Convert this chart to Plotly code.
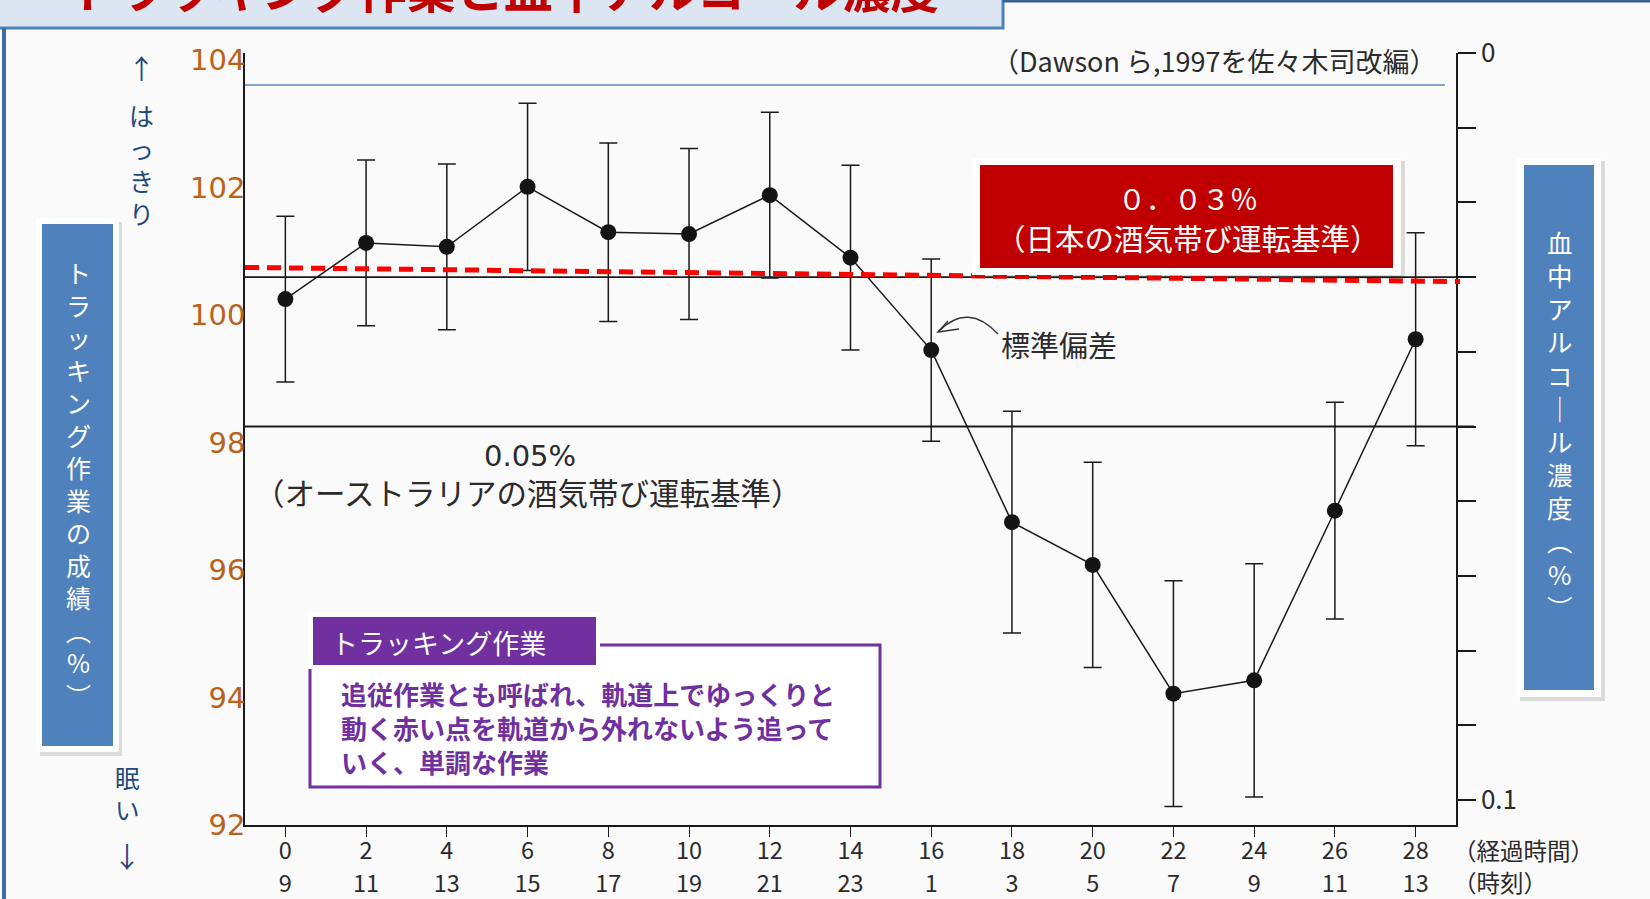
import plotly.graph_objects as go

# ---------------- data ----------------
hours = [0, 2, 4, 6, 8, 10, 12, 14, 16, 18, 20, 22, 24, 26, 28]
clock = [9, 11, 13, 15, 17, 19, 21, 23, 1, 3, 5, 7, 9, 11, 13]
tracking_mean = [100.25, 101.13, 101.07, 102.01, 101.30, 101.27, 101.88, 100.90,
                 99.45, 96.75, 96.08, 94.06, 94.27, 96.93, 99.62]
tracking_sd = [1.30, 1.30, 1.30, 1.31, 1.40, 1.34, 1.30, 1.45,
               1.43, 1.74, 1.61, 1.77, 1.83, 1.70, 1.67]
left_ticks = [92, 94, 96, 98, 100, 102, 104]
bac_ticks = [0, 0.01, 0.02, 0.03, 0.04, 0.05, 0.06, 0.07, 0.08, 0.09, 0.1]
bac_ticktext = ["0", "", "", "", "", "", "", "", "", "", "0.1"]
bac_japan = 0.03
bac_australia = 0.05
red_line_bac = [0.0287, 0.0306]

# ---------------- geometry helpers ----------------
W, H = 1650, 899
L, R, T, B = 245, 1456, 53, 825
PW, PH = R - L, B - T


def PX(px):
    return (px - L) / PW


def PY(py):
    return (B - py) / PH


FONT = "Noto Sans CJK JP"
DARK = "#2b2b2b"

fig = go.Figure()

fig.add_trace(go.Scatter(
    x=hours, y=tracking_mean, mode="lines+markers",
    line=dict(color="#1a1a1a", width=1.5),
    marker=dict(size=16, color="#141414"),
    error_y=dict(type="data", array=tracking_sd, visible=True,
                 color="#1a1a1a", thickness=1.5, width=9),
    showlegend=False, hoverinfo="skip"))

# invisible trace on the secondary axes (clock-time axis / alcohol axis)
fig.add_trace(go.Scatter(
    x=[hours[0], hours[-1]], y=[bac_japan, bac_australia],
    xaxis="x2", yaxis="y2",
    mode="markers", marker=dict(size=1, color="rgba(0,0,0,0)"),
    showlegend=False, hoverinfo="skip"))

shapes = []


def rect(x0, y0, x1, y1, fill, line_color=None, lw=0, layer="above"):
    shapes.append(dict(type="rect", xref="paper", yref="paper",
                       x0=PX(x0), x1=PX(x1), y0=PY(y0), y1=PY(y1),
                       fillcolor=fill,
                       line=dict(color=line_color or fill, width=lw),
                       layer=layer))


# reference lines on alcohol axis
for lvl in (bac_japan, bac_australia):
    shapes.append(dict(type="line", xref="paper", yref="y2",
                       x0=0, x1=PX(1474), y0=lvl, y1=lvl,
                       line=dict(color="#1a1a1a", width=1.8), layer="below"))
# thin blue line at the top
shapes.append(dict(type="line", xref="paper", yref="paper",
                   x0=0, x1=PX(1445), y0=PY(85), y1=PY(85),
                   line=dict(color="#5B86C0", width=1.5), layer="below"))
# red dashed line
shapes.append(dict(type="line", xref="paper", yref="y2",
                   x0=0, x1=PX(1460), y0=red_line_bac[0], y1=red_line_bac[1],
                   line=dict(color="#FF0000", width=5, dash="14px,8px"),
                   layer="above"))


def dx(px):
    return -1 + (px - L) / PW * 30


def dy(py):
    return 92 + (B - py) / 63.75


# curved arrow for 標準偏差
shapes.append(dict(type="path", xref="x", yref="y",
                   path=f"M {dx(998)},{dy(334)} Q {dx(968)},{dy(302)} {dx(939)},{dy(331)}",
                   line=dict(color="#333", width=1.4)))
shapes.append(dict(type="path", xref="x", yref="y",
                   path=f"M {dx(948)},{dy(321)} L {dx(938)},{dy(332)} L {dx(959)},{dy(329)}",
                   line=dict(color="#333", width=1.4)))

# title box, top line and left frame line
rect(-5, -20, 1003, 28, "#DCE6F2", "#4F81BD", 3)
shapes.append(dict(type="line", xref="paper", yref="paper",
                   x0=PX(1003), x1=PX(1660), y0=PY(1), y1=PY(1),
                   line=dict(color="#3A5F8F", width=3)))
shapes.append(dict(type="line", xref="paper", yref="paper",
                   x0=PX(4), x1=PX(4), y0=PY(28), y1=PY(905),
                   line=dict(color="#3E6CA8", width=4)))

# left blue box
rect(40, 222, 122, 756, "rgba(0,0,0,0.12)")
rect(36, 218, 119, 752, "#FFFFFF")
rect(42, 224, 113, 746, "#4F81BD")
# right blue box
rect(1520, 161, 1605, 701, "rgba(0,0,0,0.12)")
rect(1517, 158, 1601, 697, "#FFFFFF")
rect(1524, 165, 1594, 690, "#4F81BD")
# red box
rect(975, 161, 1405, 279, "rgba(0,0,0,0.12)")
rect(972, 158, 1401, 275, "#FFFFFF")
rect(980, 165, 1393, 268, "#C00000")
# purple box
rect(310, 645, 880, 787, "#FFFFFF", "#7030A0", 3)
rect(308, 612, 600, 669, "#FFFFFF")
rect(313, 617, 596, 665, "#7030A0")

annotations = []


def text(px, py, s, size, color, xanchor="center", yanchor="middle",
         family=FONT, align="center"):
    annotations.append(dict(x=PX(px), y=PY(py), xref="paper", yref="paper",
                            text=s, showarrow=False, xanchor=xanchor,
                            yanchor=yanchor, align=align, borderpad=0,
                            font=dict(family=family, size=size, color=color)))


def vertical(s):
    return "<br>".join(list(s))


# title (cut off at the top)
text(504, -13, "<b>トラッキング作業と血中アルコール濃度</b>", 48.5, "#C00000")

# axis boxes (vertical text)
text(78, 483, vertical("トラッキング作業の成績︵%︶"), 25, "#FFFFFF")
text(1560, 424, vertical("血中アルコ｜ル濃度︵%︶"), 25.5, "#FFFFFF")

# はっきり / 眠い
text(141, 68, "↑", 27, "#1F497D")
text(141, 164, vertical("はっきり"), 25, "#1F497D")
text(127, 793, vertical("眠い"), 24.5, "#1F497D")
text(127, 856, "↓", 28, "#1F497D")

# red box text
text(1188, 198, "０．０３％", 28, "#FFFFFF")
text(1188, 237, "（日本の酒気帯び運転基準）", 29.5, "#FFFFFF")

# purple box text
text(330, 642, "トラッキング作業", 27, "#FFFFFF", xanchor="left")
body_lines = ["追従作業とも呼ばれ、軌道上でゆっくりと",
              "動く赤い点を軌道から外れないよう追って",
              "いく、単調な作業"]
text(340, 727, "<b>" + "<br>".join(body_lines) + "</b>", 26, "#7030A0",
     xanchor="left", align="left")

# scan texts
text(1214, 60, "（Dawson ら,1997を佐々木司改編）", 27, DARK)
text(1059, 344, "標準偏差", 29, DARK)
text(530, 456, "0.05%", 29, DARK, family="DejaVu Sans")
text(527, 492, "（オーストラリアの酒気帯び運転基準）", 30.5, DARK)
text(1452, 850, "（経過時間）", 23.5, DARK, xanchor="left")
text(1452, 882, "（時刻）", 23.5, DARK, xanchor="left")

fig.update_layout(
    width=W, height=H,
    margin=dict(l=L, r=W - R, t=T, b=H - B, pad=0, autoexpand=False),
    paper_bgcolor="#FAFAFA", plot_bgcolor="rgba(0,0,0,0)",
    showlegend=False,
    font=dict(family=FONT, color=DARK),
    xaxis=dict(range=[-1, 29], tickvals=hours,
               ticktext=[str(h) for h in hours], automargin=False,
               ticks="outside", ticklen=10, tickwidth=1.4, tickcolor="#1a1a1a",
               showline=True, linecolor="#1a1a1a", linewidth=1.8,
               showgrid=False, zeroline=False, ticklabelstandoff=-6,
               tickfont=dict(size=23.5, color=DARK, family=FONT)),
    xaxis2=dict(overlaying="x", anchor="y", side="bottom", range=[-1, 29],
                tickvals=hours, ticktext=[str(c) for c in clock],
                automargin=False, ticks="", showline=False, showgrid=False,
                zeroline=False, ticklabelstandoff=42,
                tickfont=dict(size=23.5, color=DARK, family=FONT)),
    yaxis=dict(range=[92, 92 + PH / 63.75], tickvals=left_ticks,
               automargin=False,
               ticks="", showline=True, linecolor="#1a1a1a", linewidth=1.5,
               showgrid=False, zeroline=False, ticklabelstandoff=-8,
               tickfont=dict(size=29, color="#B8621B", family="DejaVu Sans")),
    yaxis2=dict(overlaying="y", side="right", anchor="x",
                range=[0.1 + (B - 800) / 7470, 0], tickvals=bac_ticks,
                ticktext=bac_ticktext, ticks="outside", ticklen=18,
                automargin=False,
                tickwidth=1.5, tickcolor="#1a1a1a",
                showline=True, linecolor="#1a1a1a", linewidth=1.5,
                showgrid=False, zeroline=False,
                tickfont=dict(size=26, color=DARK, family=FONT)),
    shapes=shapes, annotations=annotations,
)

fig.write_html("out.html",
               config={"displayModeBar": False},
               post_script="document.body.style.margin='0';"
                           "document.body.style.overflow='hidden';")
